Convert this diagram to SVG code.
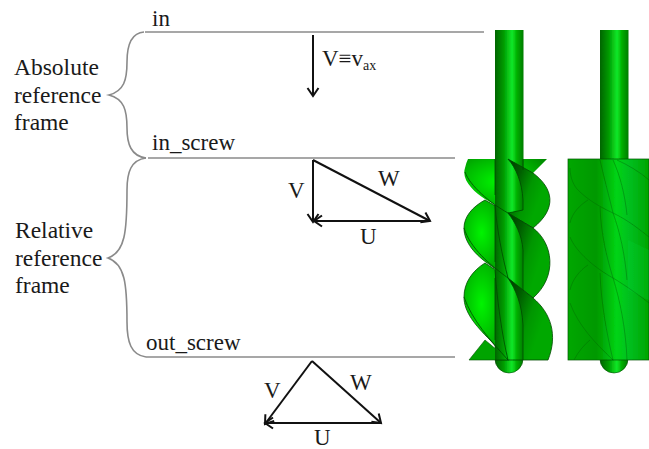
<svg xmlns="http://www.w3.org/2000/svg" width="649" height="449" viewBox="0 0 649 449">
<style>
text{font-family:"Liberation Serif","Times New Roman",serif;fill:#1a1a1a}
.l{font-size:23.500px}.m{font-size:23px}
.rule{fill:none;stroke:#8a8a8a;stroke-width:1.6}
.vec{fill:none;stroke:#111;stroke-width:2;marker-end:url(#a)}
.edge{fill:none;stroke:#004a00;stroke-width:1;stroke-opacity:.8}
.e2{fill:none;stroke:#005000;stroke-width:1;stroke-opacity:.35}
.lobeL{fill:url(#lobeL)}
.lobeR{fill:url(#lobeR);stroke:#004a00;stroke-width:.8}
</style>
<defs>
<marker id="a" markerUnits="userSpaceOnUse" markerWidth="16" markerHeight="16" refX="12" refY="8" orient="auto"><path d="M4 2.5L12 8L4 13.5" fill="none" stroke="#111" stroke-width="2"/></marker>
<linearGradient id="sh"><stop offset="0" stop-color="#006400"/><stop offset=".3" stop-color="#009a00"/><stop offset=".6" stop-color="#10e828"/><stop offset=".78" stop-color="#00ac00"/><stop offset="1" stop-color="#007c00"/></linearGradient>
<radialGradient id="lobeL" cx=".4" cy=".42" r=".75"><stop offset="0" stop-color="#00f400"/><stop offset=".55" stop-color="#00b800"/><stop offset="1" stop-color="#008000"/></radialGradient>
<linearGradient id="lobeR" x1="0" y1="0" x2=".8" y2=".5"><stop offset="0" stop-color="#003800"/><stop offset=".35" stop-color="#005c00"/><stop offset=".7" stop-color="#009600"/><stop offset="1" stop-color="#00a800"/></linearGradient>
<linearGradient id="blk"><stop offset="0" stop-color="#00a400"/><stop offset=".35" stop-color="#009400"/><stop offset=".6" stop-color="#00d414"/><stop offset=".75" stop-color="#00c020"/><stop offset="1" stop-color="#00a400"/></linearGradient>
<filter id="s" x="-5%" y="-5%" width="110%" height="110%"><feGaussianBlur stdDeviation=".5"/></filter>
</defs>
<g id="connectors">
<path class="rule" d="M145 32H484M148 158H455M146 357H455"/>
<path class="rule" d="M144 32C130 33 127 48 127 62C127 80 124 91 109 95C124 99 127 110 127 128C127 144 131 156 146 158"/>
<path class="rule" d="M146 158C131 160 127 172 127 190C127 232 125 252 108 258C125 264 127 284 127 322C127 342 131 355 146 357"/>
<path class="vec" d="M313 35V96"/>
<path class="vec" d="M313 160V222"/>
<path class="vec" d="M313 160L430 221"/>
<path class="vec" d="M430 221H314"/>
<path class="vec" d="M312 361L265 424"/>
<path class="vec" d="M312 361L381 423"/>
<path class="vec" d="M381 423H265"/>
</g>
<g id="label-absolute"><text class="l" x="14" y="75">Absolute</text><text class="l" x="14" y="103">reference</text><text class="l" x="14" y="130">frame</text></g>
<g id="label-relative"><text class="l" x="15" y="238">Relative</text><text class="l" x="15" y="266">reference</text><text class="l" x="15" y="293">frame</text></g>
<g id="station-in"><text class="m" x="152" y="26">in</text></g>
<g id="station-in-screw"><text class="m" x="152" y="150">in_screw</text></g>
<g id="station-out-screw"><text class="m" x="146" y="350">out_screw</text></g>
<g id="velocity-labels">
<text class="m" x="322" y="66">V≡v<tspan font-size="14" dy="4">ax</tspan></text>
<text class="m" x="288" y="198">V</text><text class="m" x="378" y="186">W</text><text class="m" x="360" y="244">U</text>
<text class="m" x="264" y="398">V</text><text class="m" x="350" y="390">W</text><text class="m" x="314" y="445">U</text>
</g>
<g id="screw-open" filter="url(#s)">
<path d="M495 345H523V359A14 14 0 0 1 495 359Z" fill="url(#sh)" stroke="#004a00" stroke-width=".6"/>
<path d="M469 360L485 340L509 360Z" fill="#00a400" stroke="#005000" stroke-width=".6"/>
<path class="lobeL" d="M468 159H547L533 173L523 213H508L485 199C474 192 461 180 465 168Q466 163 468 159Z"/>
<path class="lobeL" d="M485 200L508 213V278L490 265C475 255 464 242 464 228C464 217 472 207 485 200Z" stroke="#004a00" stroke-width=".8"/>
<path class="lobeL" d="M485 263L508 278V360L490 340C475 325 464 312 464 297C464 283 472 271 485 263Z" stroke="#004a00" stroke-width=".8"/>
<rect x="495" y="30" width="28.500" height="330" fill="url(#sh)"/>
<path class="lobeR" d="M508 159L533 173C553 188 558 208 533 228L508 213L523 210V200C522 182 516 168 508 159Z"/>
<path class="lobeR" d="M508 213L533 228C553 243 558 276 533 298L523 290V250C522 235 515 222 508 213Z"/>
<path class="lobeR" d="M508 278L533 298C551 313 558 335 548 360H523V325C522 305 516 290 508 278Z"/>
<path class="edge" d="M495 205V262M495 278V340M495 159V195M465 172C470 186 490 203 508 213M464 228C470 248 490 265 508 278M464 297C472 320 490 340 508 360M495 205C497 230 502 255 508 278M495 270C497 300 502 335 508 360M523 159V170M495 360H523"/>
</g>
<g id="screw-shrouded" filter="url(#s)">
<path d="M600 345H628V359A14 14 0 0 1 600 359Z" fill="url(#sh)" stroke="#004a00" stroke-width=".6"/>
<rect x="600" y="30" width="28.500" height="130" fill="url(#sh)"/>
<rect x="568" y="159" width="81" height="201" fill="url(#blk)" stroke="#005000" stroke-width=".7"/>
<path class="e2" d="M570 168C570 178 574 186 578 190C588 200 600 207 613 213C628 220 640 230 649 237M570 237C576 252 595 268 613 278C628 287 640 296 649 303M570 303C578 325 595 343 613 360M570 223C572 213 580 205 588 200M570 290C572 280 580 270 588 265M574 360C578 352 584 345 590 340M600 207C601 235 607 258 613 278M600 273C601 303 607 335 613 360M613 213C620 232 625 255 627 280M613 278C620 300 626 330 627 360M617 160C628 165 640 172 649 180M600 160C604 178 609 196 613 213M613 160C620 175 625 195 627 215"/>
<path d="M568 159H600V360H568Z" fill="#00c000" fill-opacity=".12"/>
<path d="M628 240L649 250V300L628 290Z" fill="#20e040" fill-opacity=".18"/>
</g>
</svg>
